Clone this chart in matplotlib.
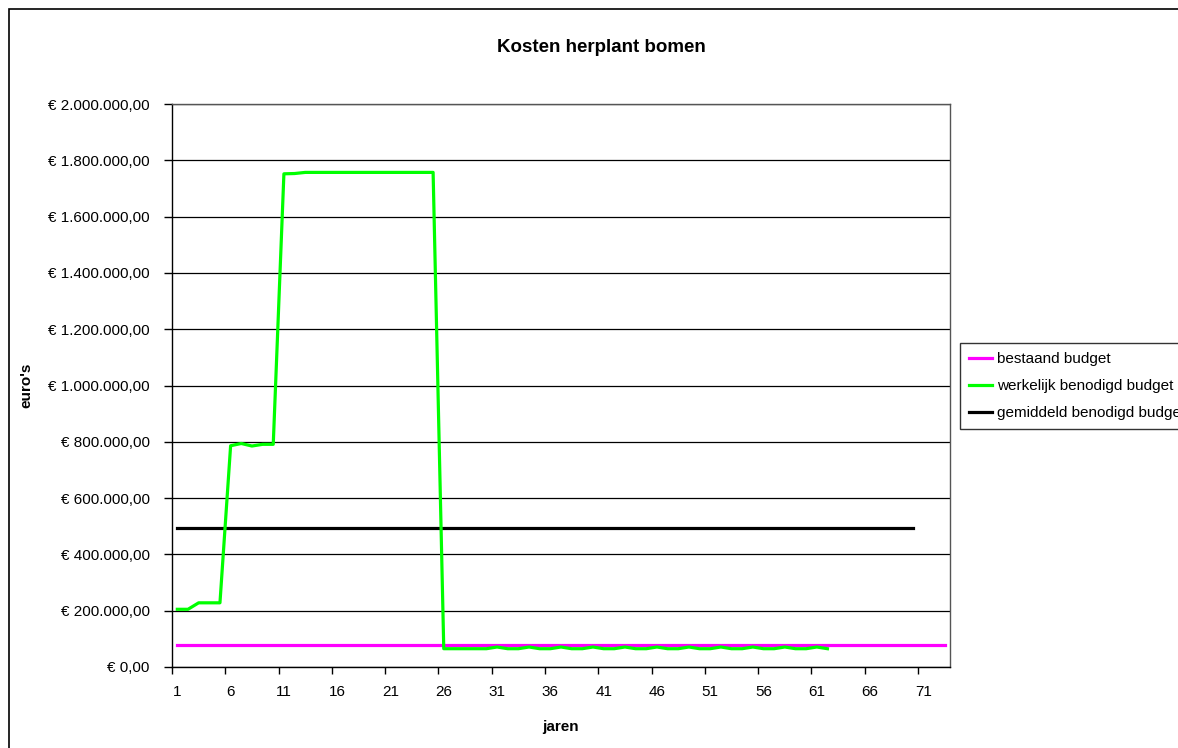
import matplotlib
matplotlib.use('Agg')
import matplotlib.pyplot as plt
from matplotlib.patches import Rectangle
from matplotlib.ticker import FuncFormatter, FixedLocator

plt.rcParams['font.family'] = ['Liberation Sans', 'DejaVu Sans']

# ── Data ────────────────────────────────────────────────────────────────────
years = list(range(1, 74))                     # 73 categories on the x-axis
bestaand = [78000] * 73                        # existing budget, years 1-73
gemiddeld = [493000] * 70                      # average needed budget, years 1-70
werkelijk = [
    205000, 205000, 228000, 228000, 228000,
    786000, 794000, 785000, 791000, 791000,
    1752000, 1753000, 1757000, 1757000, 1757000, 1757000, 1757000,
    1757000, 1757000, 1757000, 1757000, 1757000, 1757000, 1757000, 1757000,
    65000, 65000, 65000, 65000, 65000, 71000, 65000, 65000, 71000, 65000,
    65000, 71000, 65000, 65000, 71000, 65000, 65000, 71000, 65000, 65000,
    71000, 65000, 65000, 71000, 65000, 65000, 71000, 65000, 65000, 71000,
    65000, 65000, 71000, 65000, 65000, 71000, 65000,
]
x_labels = [str(v) for v in range(1, 72, 5)]


def euro(v, pos=None):
    s = f"{v:,.2f}".replace(',', 'X').replace('.', ',').replace('X', '.')
    return f"€ {s}"


def main():
    fig = plt.figure(figsize=(11.78, 7.48), dpi=100)
    ax = fig.add_axes([172 / 1178, 1 - 667 / 748, (950 - 172) / 1178, (667 - 104) / 748])

    # outer chart border (cropped at right and bottom like the original)
    fig.patches.append(Rectangle((9 / 1178, -0.05), 1.1, 1 - 9 / 748 + 0.05,
                                 transform=fig.transFigure, fill=False,
                                 edgecolor='black', linewidth=1.2))

    ax.plot(years[:len(bestaand)], bestaand, color='#FF00FF', linewidth=2.3,
            label='bestaand budget', zorder=3)
    ax.plot(years[:len(werkelijk)], werkelijk, color='#00FF00', linewidth=2.3,
            label='werkelijk benodigd budget', zorder=4)
    ax.plot(years[:len(gemiddeld)], gemiddeld, color='black', linewidth=2.3,
            label='gemiddeld benodigd budget', zorder=3)

    ax.set_xlim(0.5, 73.5)
    ax.set_ylim(0, 2000000)
    ax.set_yticks(range(0, 2000001, 200000))
    ax.yaxis.set_major_formatter(FuncFormatter(euro))
    ax.grid(axis='y', color='black', linewidth=0.9)
    ax.set_axisbelow(True)

    # ticks between categories, labels on the categories
    ax.xaxis.set_major_locator(FixedLocator([0.5 + 5 * i for i in range(15)]))
    ax.xaxis.set_minor_locator(FixedLocator([int(s) for s in x_labels]))
    ax.xaxis.set_major_formatter(FuncFormatter(lambda v, p: ''))
    ax.set_xticklabels(x_labels, minor=True)
    ax.tick_params(axis='x', which='major', direction='out', length=5, width=1)
    ax.tick_params(axis='x', which='minor', length=0, pad=13, labelsize=11)
    ax.tick_params(axis='y', direction='out', length=6, width=1, pad=10, labelsize=11)

    for side in ['left', 'bottom']:
        ax.spines[side].set_color('black')
        ax.spines[side].set_linewidth(1)
    for side in ['top', 'right']:
        ax.spines[side].set_color('#555555')
        ax.spines[side].set_linewidth(1)

    ax.set_xlabel('jaren', fontsize=11, fontweight='bold')
    ax.xaxis.set_label_coords(0.5, -(720 - 667) / 563, transform=ax.transAxes)
    ax.set_ylabel("euro's", fontsize=11, fontweight='bold')
    ax.yaxis.set_label_coords(-(172 - 33) / 778, 0.5, transform=ax.transAxes)
    fig.text(601 / 1178, 1 - 47 / 748, 'Kosten herplant bomen', ha='center', va='center',
             fontsize=13.5, fontweight='bold')

    # legend box runs past the right edge, as in the original
    leg = fig.legend(loc='upper left', bbox_to_anchor=(960 / 1178, 1 - 343 / 748),
                     bbox_transform=fig.transFigure, frameon=True, fancybox=False,
                     edgecolor='black', fontsize=11, handlelength=1.5, handletextpad=0.3,
                     labelspacing=0.85, borderpad=0.6, borderaxespad=0)
    leg.get_frame().set_linewidth(1)

    plt.savefig('out.png', dpi=100)


if __name__ == '__main__':
    main()
